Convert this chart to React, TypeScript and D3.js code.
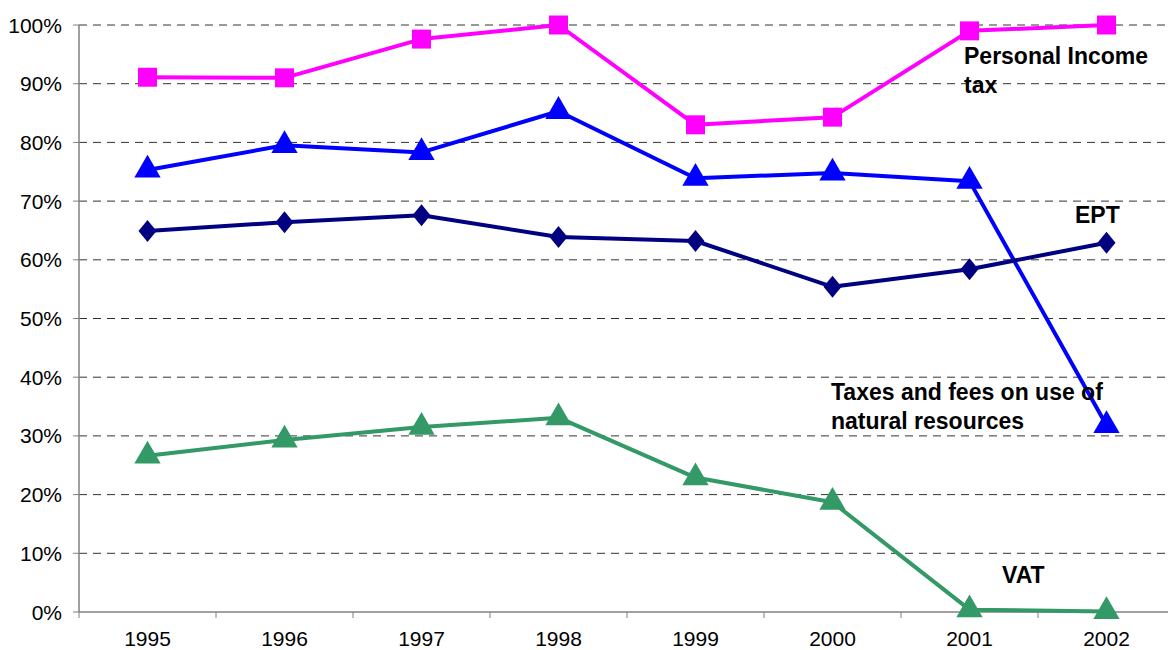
import React from 'react';
import * as d3 from 'd3';

const years = ['1995', '1996', '1997', '1998', '1999', '2000', '2001', '2002'];
const personalIncome = [91.1, 91.0, 97.6, 100, 83.0, 84.3, 99.0, 100];
const naturalRes = [75.3, 79.5, 78.3, 85.3, 73.9, 74.8, 73.4, 31.8];
const ept = [64.9, 66.4, 67.6, 63.9, 63.2, 55.4, 58.4, 62.9];
const vat = [26.6, 29.3, 31.5, 33.1, 22.9, 18.7, 0.4, 0.1];
const yTicks = [0, 10, 20, 30, 40, 50, 60, 70, 80, 90, 100];

const W = 1168;
const H = 650;
const m = { left: 79, top: 25, bottom: 38 };

const series = [
  { key: 'pit', values: personalIncome, color: '#FF00FF', marker: 'square' },
  { key: 'nat', values: naturalRes, color: '#0000FF', marker: 'triangle' },
  { key: 'ept', values: ept, color: '#000080', marker: 'diamond' },
  { key: 'vat', values: vat, color: '#339966', marker: 'triangle' },
];

const labels = [
  { lines: ['Personal Income', 'tax'], x: 964, y: 64 },
  { lines: ['EPT'], x: 1075, y: 223 },
  { lines: ['Taxes and fees on use of', 'natural resources'], x: 831, y: 400 },
  { lines: ['VAT'], x: 1002, y: 583 },
];

export default function App() {
  const x = d3.scaleBand<string>().domain(years).range([m.left, m.left + 137 * years.length]);
  const y = d3.scaleLinear().domain([0, 100]).range([H - m.bottom, m.top]);
  const line = d3
    .line<number>()
    .x((_, i) => (x(years[i]) as number) + x.bandwidth() / 2)
    .y((d) => y(d));

  const symbolPath = (kind: string) => {
    if (kind === 'square') return d3.symbol().type(d3.symbolSquare).size(360)();
    if (kind === 'diamond') return 'M0,-11L9,0L0,11L-9,0Z';
    return d3.symbol().type(d3.symbolTriangle).size(300)();
  };

  const font = 'Arial, "Liberation Sans", sans-serif';

  return (
    <svg width={W} height={H} style={{ position: 'absolute', left: 0, top: 0, background: '#fff' }}>
      {yTicks.map((t) => (
        <g key={t}>
          {t > 0 && (
            <line x1={m.left} x2={W} y1={y(t)} y2={y(t)} stroke="#333" strokeWidth={1} strokeDasharray="8,6" />
          )}
          <line x1={m.left - 6} x2={m.left} y1={y(t)} y2={y(t)} stroke="#808080" />
          <text x={62} y={y(t)} dy="0.36em" textAnchor="end" fontFamily={font} fontSize={21} fill="#000">
            {t}%
          </text>
        </g>
      ))}
      <line x1={m.left} x2={m.left} y1={m.top} y2={y(0)} stroke="#808080" strokeWidth={1.5} />
      <line x1={m.left} x2={W} y1={y(0)} y2={y(0)} stroke="#808080" strokeWidth={1.5} />
      {years.map((yr) => (
        <g key={yr}>
          <line x1={x(yr)} x2={x(yr)} y1={y(0)} y2={y(0) + 6} stroke="#808080" />
          <text
            x={(x(yr) as number) + x.bandwidth() / 2}
            y={y(0) + 34}
            textAnchor="middle"
            fontFamily={font}
            fontSize={21}
            fill="#000"
          >
            {yr}
          </text>
        </g>
      ))}
      {series.map((s) => (
        <g key={s.key}>
          <path d={line(s.values) || ''} fill="none" stroke={s.color} strokeWidth={4} strokeLinejoin="round" />
          {s.values.map((v, i) => (
            <path
              key={i}
              d={symbolPath(s.marker) || ''}
              transform={`translate(${(x(years[i]) as number) + x.bandwidth() / 2},${y(v)})`}
              fill={s.color}
            />
          ))}
        </g>
      ))}
      {labels.map((l, i) => (
        <text key={i} x={l.x} y={l.y} fontFamily={font} fontSize={23} fontWeight="bold" fill="#000">
          {l.lines.map((ln, j) => (
            <tspan key={j} x={l.x} dy={j === 0 ? 0 : 29}>
              {ln}
            </tspan>
          ))}
        </text>
      ))}
    </svg>
  );
}
